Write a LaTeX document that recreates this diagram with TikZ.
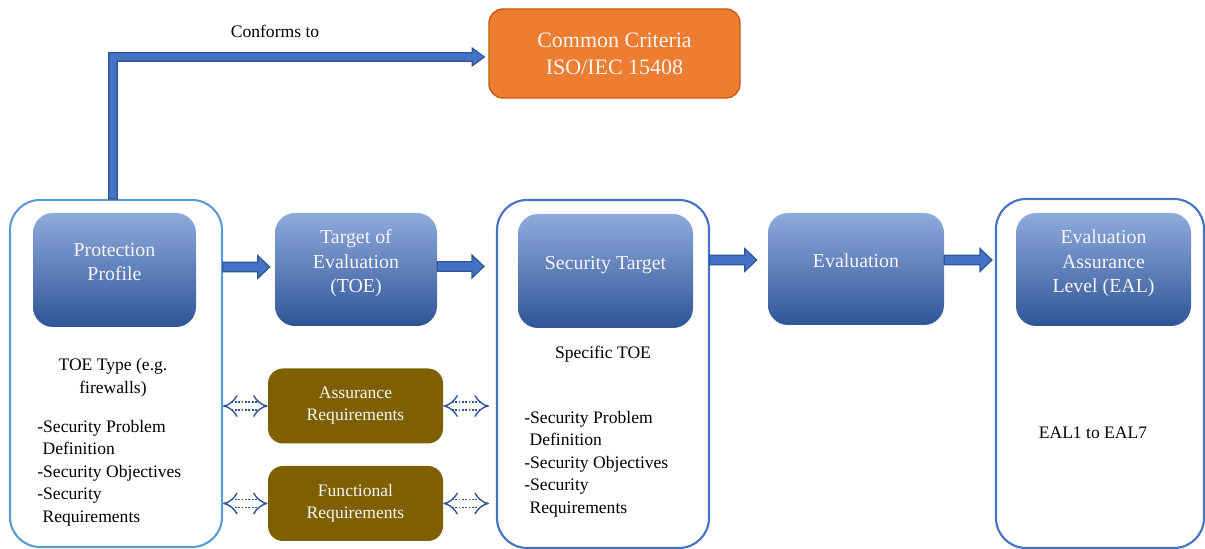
\documentclass[tikz,border=0pt]{standalone}
\usepackage{fontspec}
\setmainfont{Liberation Serif}
\usetikzlibrary{calc,arrows.meta}

\definecolor{ppblue}{RGB}{91,155,213}
\definecolor{midblue}{RGB}{68,114,196}
\definecolor{darkblue}{RGB}{47,85,151}
\definecolor{lightblue}{RGB}{143,170,220}
\definecolor{ccorange}{RGB}{237,125,49}
\definecolor{ccedge}{RGB}{197,90,17}
\definecolor{reqbrown}{RGB}{127,96,0}
\definecolor{boxtext}{RGB}{245,245,245}

\tikzset{
	stage/.style={rounded corners=0.4cm,top color=lightblue,middle color=midblue,bottom color=darkblue,
	text=boxtext,align=center,inner sep=2pt,text depth=0.33cm,font=\fontsize{11.3}{13.9}\selectfont},
	outerbox/.style={draw=midblue,rounded corners=0.6cm,line width=1.2pt},
	reqbox/.style={fill=reqbrown,rounded corners=0.3cm,text=boxtext,align=center,
	minimum width=3.5cm,minimum height=1.5cm,font=\fontsize{10}{12.5}\selectfont},
	listtext/.style={align=left,inner sep=0pt,font=\fontsize{10}{12.8}\selectfont},
	blockarr/.style={fill=midblue,draw=darkblue,line width=0.7pt,line join=miter},
	reqarr/.style={draw=darkblue,line width=0.8pt,double=white,double distance=3.6pt,
	dash pattern=on 1pt off 0.9pt,{Implies[scale=1.5]}-{Implies[scale=1.5]}}
}

% block arrow: start point, tip (at the height of the start point)
\newcommand{\blockarrow}[2]{%
	\draw[blockarr] let \p1=(#1), \p2=(#2) in
	(\x1,\y1+2.7pt) -- (\x2-6.8pt,\y1+2.7pt) -- (\x2-6.8pt,\y1+6.5pt) -- (\x2,\y1)
	-- (\x2-6.8pt,\y1-6.5pt) -- (\x2-6.8pt,\y1-2.7pt) -- (\x1,\y1-2.7pt) -- cycle;}

\begin{document}
\begin{tikzpicture}
	\useasboundingbox (0,0) rectangle (24.1,10.98);
	% outer frames
	\node(ppout) [outerbox,draw=ppblue,minimum width=4.24cm,minimum height=6.94cm] at (2.32,3.51) {};
	\node(stout) [outerbox,minimum width=4.24cm,minimum height=6.96cm] at (12.06,3.5) {};
	\node(ealout) [outerbox,minimum width=4.16cm,minimum height=6.98cm] at (22.0,3.51) {};
	% stages
	\node(pp) [stage,minimum width=3.26cm,minimum height=2.28cm] at (2.29,5.58) {Protection\\Profile};
	\node(toe) [stage,minimum width=3.24cm,minimum height=2.26cm] at (7.12,5.59) {Target of\\Evaluation\\(TOE)};
	\node(st) [stage,minimum width=3.5cm,minimum height=2.28cm] at (12.11,5.56) {Security Target};
	\node(eval) [stage,minimum width=3.52cm,minimum height=2.24cm] at (17.12,5.6) {Evaluation};
	\node(eal) [stage,minimum width=3.5cm,minimum height=2.26cm] at (22.07,5.59) {Evaluation\\Assurance\\Level (EAL)};
	\node(cc) [fill=ccorange,draw=ccedge,line width=0.8pt,rounded corners=0.28cm,text=boxtext,align=center,
	minimum width=5.02cm,minimum height=1.78cm,font=\fontsize{12.5}{15.3}\selectfont] at (12.29,9.91) {Common Criteria\\ISO/IEC 15408};
	\node(asr) [reqbox] at (7.11,2.86) {Assurance\\Requirements};
	\node(fun) [reqbox] at (7.11,0.91) {Functional\\Requirements};
	% texts
	\node(pptype) [listtext,align=center] at (2.26,3.42) {TOE Type (e.g.\\firewalls)};
	\node(pplist) [listtext,anchor=west] at (0.74,1.52) {-Security Problem\\\hspace*{3pt}Definition\\-Security Objectives\\-Security\\\hspace*{3pt}Requirements};
	\node(sttoe) [listtext] at (12.06,3.9) {Specific TOE};
	\node(stlist) [listtext,anchor=west] at (10.48,1.7) {-Security Problem\\\hspace*{3pt}Definition\\-Security Objectives\\-Security\\\hspace*{3pt}Requirements};
	\node(ealrange) [listtext] at (21.86,2.32) {EAL1 to EAL7};
	\node(conf) [listtext] at (5.5,10.36) {Conforms to};
	% block arrows
	\coordinate (a1) at ([yshift=0.06cm]pp.east);
	\coordinate (a3) at ([yshift=0.18cm]eval.west);
	\blockarrow{ppout.east |- a1}{[xshift=-0.1cm]toe.west}
	\blockarrow{[yshift=0.06cm]toe.east}{[xshift=-0.24cm]stout.west}
	\blockarrow{stout.east |- a3}{[xshift=-0.22cm]eval.west}
	\blockarrow{[yshift=0.18cm]eval.east}{[xshift=-0.06cm]ealout.west}
	\draw[blockarr] let \p1=([xshift=-0.06cm]ppout.north), \p2=([xshift=-0.08cm,yshift=-0.07cm]cc.west) in
	(\x1-2.4pt,\y1) -- (\x1-2.4pt,\y2+2.4pt) -- (\x2-6.8pt,\y2+2.4pt) -- (\x2-6.8pt,\y2+5pt) -- (\x2,\y2)
	-- (\x2-6.8pt,\y2-5pt) -- (\x2-6.8pt,\y2-2.4pt) -- (\x1+2.4pt,\y2-2.4pt) -- (\x1+2.4pt,\y1) -- cycle;
	% dotted double arrows
	\draw[reqarr] (ppout.east |- asr.west) -- (asr.west);
	\draw[reqarr] (asr.east) -- ([xshift=-0.14cm]stout.west |- asr.east);
	\draw[reqarr] (ppout.east |- fun.west) -- (fun.west);
	\draw[reqarr] (fun.east) -- ([xshift=-0.14cm]stout.west |- fun.east);
\end{tikzpicture}
\end{document}
